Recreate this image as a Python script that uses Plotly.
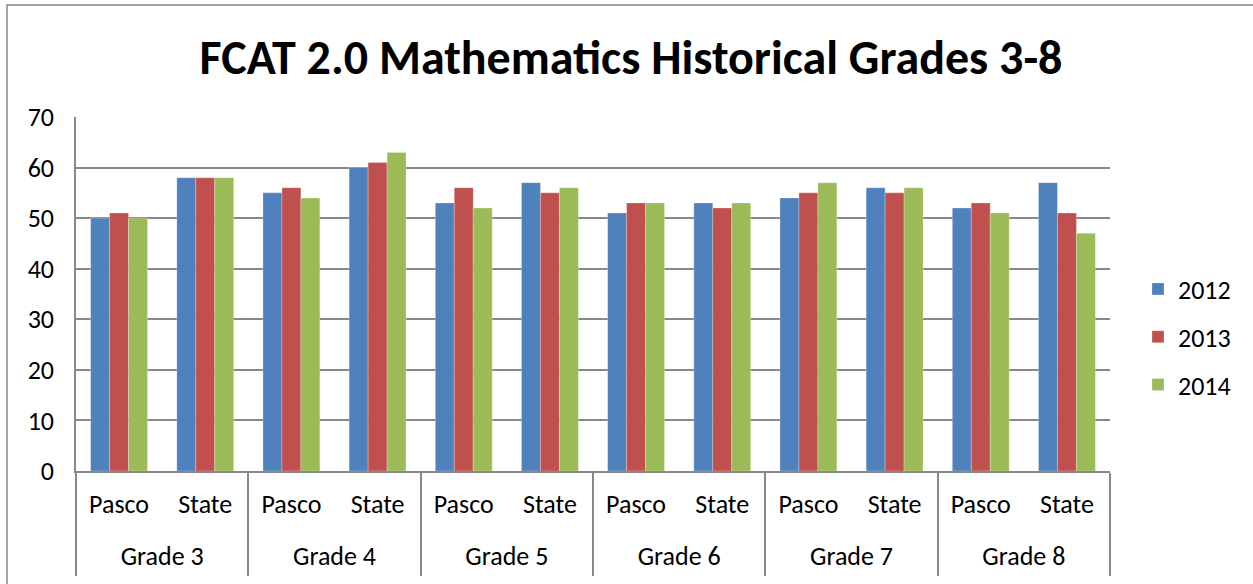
import plotly.graph_objects as go

grades = ["Grade 3", "Grade 4", "Grade 5", "Grade 6", "Grade 7", "Grade 8"]
groups = ["Pasco", "State"]
years = ["2012", "2013", "2014"]
values_2012 = [50, 58, 55, 60, 53, 57, 51, 53, 54, 56, 52, 57]
values_2013 = [51, 58, 56, 61, 56, 55, 53, 52, 55, 55, 53, 51]
values_2014 = [50, 58, 54, 63, 52, 56, 53, 53, 57, 56, 51, 47]
colors = ["#4F81BD", "#C0504D", "#9BBB59"]
yticks = [0, 10, 20, 30, 40, 50, 60, 70]

n_in = len(groups)
inner = [s for _ in grades for s in groups]
pos = list(range(len(inner)))                      # category slots
group_centers = [i * n_in + (n_in - 1) / 2 for i in range(len(grades))]
group_bounds = [i * n_in - 0.5 for i in range(len(grades) + 1)]
xr = [-0.5, len(inner) - 0.5]

FONT = "Calibri, Carlito, Lato, sans-serif"
GRAY = "#888888"

fig = go.Figure()
for yr, vals, col in zip(years, [values_2012, values_2013, values_2014], colors):
    fig.add_trace(go.Bar(
        x=pos, y=vals, name=yr, legendgroup=yr,
        marker=dict(color=col, line=dict(color="rgba(255,255,255,0.5)", width=0.5)),
    ))

W, H = 1253, 584
L, R, T, B = 76, 1110, 117, 471
pw, ph = R - L, B - T

fig.update_layout(
    width=W, height=H,
    margin=dict(l=L, r=W - R, t=T, b=H - B),
    paper_bgcolor="white", plot_bgcolor="white",
    barmode="group", bargap=0.34, bargroupgap=0,
    font=dict(family=FONT, size=26, color="black"),
    title=dict(text="<b>FCAT 2.0 Mathematics Historical Grades 3-8</b>",
               font=dict(family=FONT, size=48, color="black"),
               x=631 / W, xanchor="center", xref="container",
               y=1 - 57 / H, yanchor="middle", yref="container"),
    legend=dict(x=(1138 - L) / pw, xanchor="left", y=(B - 337) / ph, yanchor="middle",
                font=dict(family=FONT, size=26), tracegroupgap=11,
                traceorder="grouped", bgcolor="rgba(0,0,0,0)"),
    showlegend=True,
    xaxis=dict(range=xr, tickvals=pos, ticktext=inner, ticks="", showgrid=False,
               zeroline=False, showline=True, linecolor=GRAY, linewidth=1.5,
               ticklabelstandoff=9, tickfont=dict(family=FONT, size=26),
               minor=dict(tickvals=group_bounds, ticks="outside", ticklen=103,
                          tickcolor=GRAY, tickwidth=1.5, showgrid=False)),
    xaxis2=dict(overlaying="x", anchor="y", side="bottom", range=xr,
                tickvals=group_centers, ticktext=grades, ticks="", showgrid=False,
                zeroline=False, showline=False, ticklabelstandoff=67,
                tickfont=dict(family=FONT, size=26)),
    yaxis=dict(range=[0, 70], tickvals=yticks, showgrid=True, gridcolor=GRAY,
               gridwidth=1.5, showline=True, linecolor=GRAY, linewidth=1.5,
               zeroline=False, ticks="", ticklabelstandoff=15,
               tickfont=dict(family=FONT, size=26)),
)
# invisible helper trace so the secondary (group label) axis is drawn
fig.add_trace(go.Scatter(x=[xr[0]], y=[0], xaxis="x2", mode="markers",
                         marker=dict(opacity=0), showlegend=False, hoverinfo="skip"))

fig.add_shape(type="rect", xref="paper", yref="paper",
              x0=(7 - L) / pw, x1=(1300 - L) / pw, y0=(B - 700) / ph, y1=(B - 5) / ph,
              line=dict(color=GRAY, width=1.5), fillcolor="rgba(0,0,0,0)", layer="below")

fig.write_html("out.html", config={"displayModeBar": False},
               post_script="document.body.style.margin='0';")
